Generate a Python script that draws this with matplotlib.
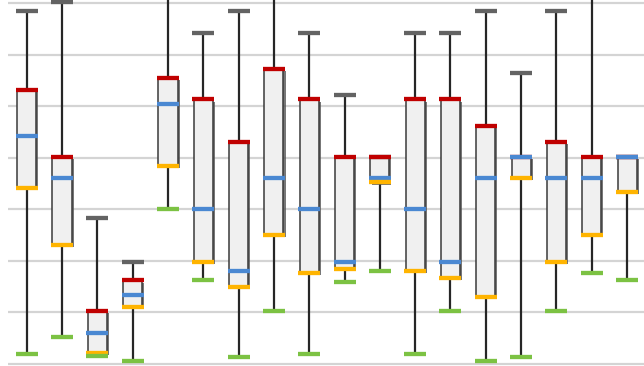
import numpy as np
import matplotlib
matplotlib.use('Agg')
import matplotlib.pyplot as plt
import matplotlib.patheffects as pe
from matplotlib.patches import Rectangle

# values (grid units, gridlines at 0..7)
maximum = [6.84, 7.02, 2.83, 1.98, 7.5, 6.42, 6.84, 7.5, 6.42, 5.22, 4.02, 6.42, 6.42, 6.84, 5.64, 6.84, 7.5, 4.02]
upper_q = [5.31, 4.02, 1.02, 1.62, 5.55, 5.13, 4.30, 5.73, 5.13, 4.02, 4.02, 5.13, 5.13, 4.62, 4.02, 4.30, 4.02, 4.02]
median = [4.43, 3.60, 0.60, 1.34, 5.04, 3.01, 1.80, 3.60, 3.01, 1.98, 3.61, 3.01, 1.98, 3.61, 4.02, 3.61, 3.61, 4.02]
lower_q = [3.42, 2.31, 0.21, 1.11, 3.84, 1.98, 1.49, 2.50, 1.76, 1.85, 3.52, 1.80, 1.67, 1.30, 3.61, 1.98, 2.50, 3.33]
minimum = [0.19, 0.52, 0.15, 0.05, 3.01, 1.62, 0.14, 1.02, 0.19, 1.58, 1.80, 0.19, 1.02, 0.05, 0.14, 1.02, 1.76, 1.62]

x = np.arange(len(maximum))

fig = plt.figure(figsize=(6.44, 3.66), dpi=100)
ax = fig.add_axes([8 / 644, 0, 1 - 8 / 644, 1])
ax.set_xlim(-0.53, 17.48)
ax.set_ylim(-0.04, 7.06)
for s in ax.spines.values():
    s.set_visible(False)
ax.set_xticks([])
ax.set_yticks(range(0, 8))
ax.tick_params(left=False, labelleft=False)
ax.yaxis.grid(True, color='#d4d4d4', linewidth=1.6)
ax.set_axisbelow(True)

# high-low lines
ax.vlines(x, minimum, maximum, color='#262626', linewidth=1.6, zorder=2)

# boxes between upper and lower quartile
box_w = 0.54
for xi, hi, lo in zip(x, upper_q, lower_q):
    r = Rectangle((xi - box_w / 2, lo), box_w, hi - lo, facecolor='#f0f0f0',
                  edgecolor='#3a3a3a', linewidth=1.1, zorder=3,
                  path_effects=[pe.SimplePatchShadow(offset=(1.5, -1.5), shadow_rgbFace='#555555', alpha=0.8),
                                pe.Normal()])
    ax.add_patch(r)

mk = dict(ls='none', marker='_', ms=16, mew=3.1, zorder=4)
ax.plot(x, maximum, color='#636363', **mk)
ax.plot(x, upper_q, color='#c00000', **mk)
ax.plot(x, median, color='#4a88d2', **mk)
ax.plot(x, lower_q, color='#ffb400', **mk)
ax.plot(x, minimum, color='#7cc243', **mk)

fig.savefig('out.png', dpi=100)
